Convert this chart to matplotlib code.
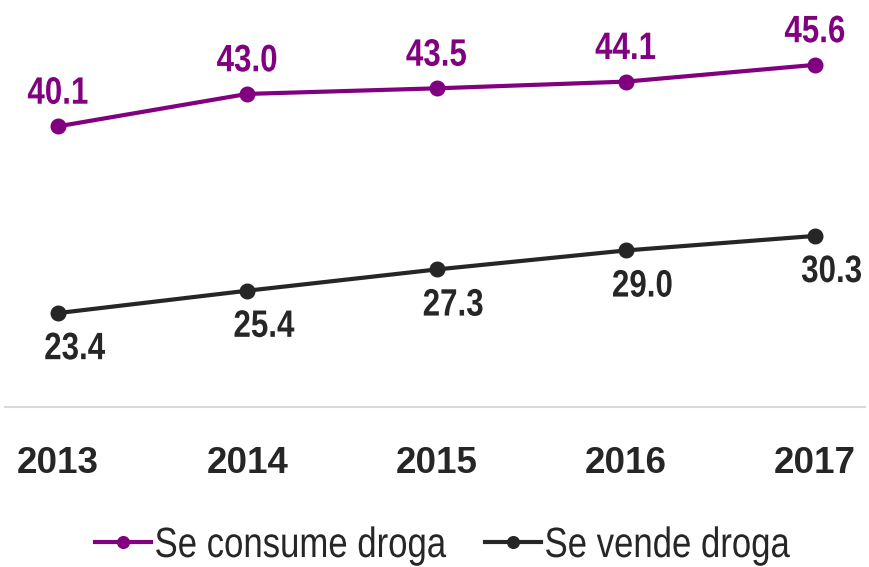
import matplotlib.pyplot as plt
from matplotlib.font_manager import FontProperties
from matplotlib.patheffects import AbstractPathEffect
from matplotlib.transforms import Affine2D
import numpy as np

years = ["2013", "2014", "2015", "2016", "2017"]
consume = [40.1, 43.0, 43.5, 44.1, 45.6]
vende = [23.4, 25.4, 27.3, 29.0, 30.3]

purple = "#800080"
dark = "#262626"


# no narrow font installed, so squeeze the glyph paths horizontally
class Squeeze(AbstractPathEffect):
    def __init__(self, sx=0.82, anchor="center"):
        super().__init__()
        self.sx = sx
        self.anchor = anchor

    def draw_path(self, renderer, gc, tpath, affine, rgbFace=None):
        ext = tpath.get_extents()
        cx = ext.x0 if self.anchor == "left" else (ext.x0 + ext.x1) / 2
        t = Affine2D().translate(-cx, 0).scale(self.sx, 1).translate(cx, 0) + affine
        renderer.draw_path(gc, tpath, t, rgbFace)


lab_font = FontProperties(family="Liberation Sans", weight="bold", size=27.5)
leg_font = FontProperties(family="Liberation Sans", weight="normal", size=30.5)
tick_font = FontProperties(family="Liberation Sans", weight="bold", size=26.5)

fig = plt.figure(figsize=(8.69, 5.67), dpi=100)
ax = fig.add_axes([5 / 869, 160 / 567, 860 / 869, 407 / 567])

x = np.arange(len(years))
ax.plot(x, consume, color=purple, lw=3, marker="o", ms=10.5, label="Se consume droga")
ax.plot(x, vende, color=dark, lw=3, marker="o", ms=10.5, label="Se vende droga")

for xi, v in zip(x, consume):
    ax.annotate(f"{v:.1f}", (xi, v), xytext=(0, 23.5), textcoords="offset points",
                ha="center", va="center", fontproperties=lab_font, color=purple,
                path_effects=[Squeeze()])
for xi, v in zip(x, vende):
    ax.annotate(f"{v:.1f}", (xi, v), xytext=(12, -26), textcoords="offset points",
                ha="center", va="center", fontproperties=lab_font, color=dark,
                path_effects=[Squeeze()])

ax.set_xlim(-0.28, 4.264)
ax.set_ylim(15, 51.4)
ax.set_yticks([])
ax.set_xticks(x)
ax.set_xticklabels(years, color=dark)
for t in ax.get_xticklabels():
    t.set_fontproperties(tick_font)
ax.tick_params(axis="x", length=0, pad=28)
for side in ["top", "left", "right"]:
    ax.spines[side].set_visible(False)
ax.spines["bottom"].set_color("#d9d9d9")
ax.spines["bottom"].set_linewidth(1.5)

leg = fig.legend(loc="center", bbox_to_anchor=(0.540, 0.037), ncol=2, frameon=False,
                 prop=leg_font, handlelength=1.32, markerscale=0.8,
                 handletextpad=0.07, columnspacing=-0.57, borderaxespad=0)
for t in leg.get_texts():
    t.set_color(dark)
    t.set_path_effects([Squeeze(anchor="left")])

fig.savefig("out.png", dpi=100)
